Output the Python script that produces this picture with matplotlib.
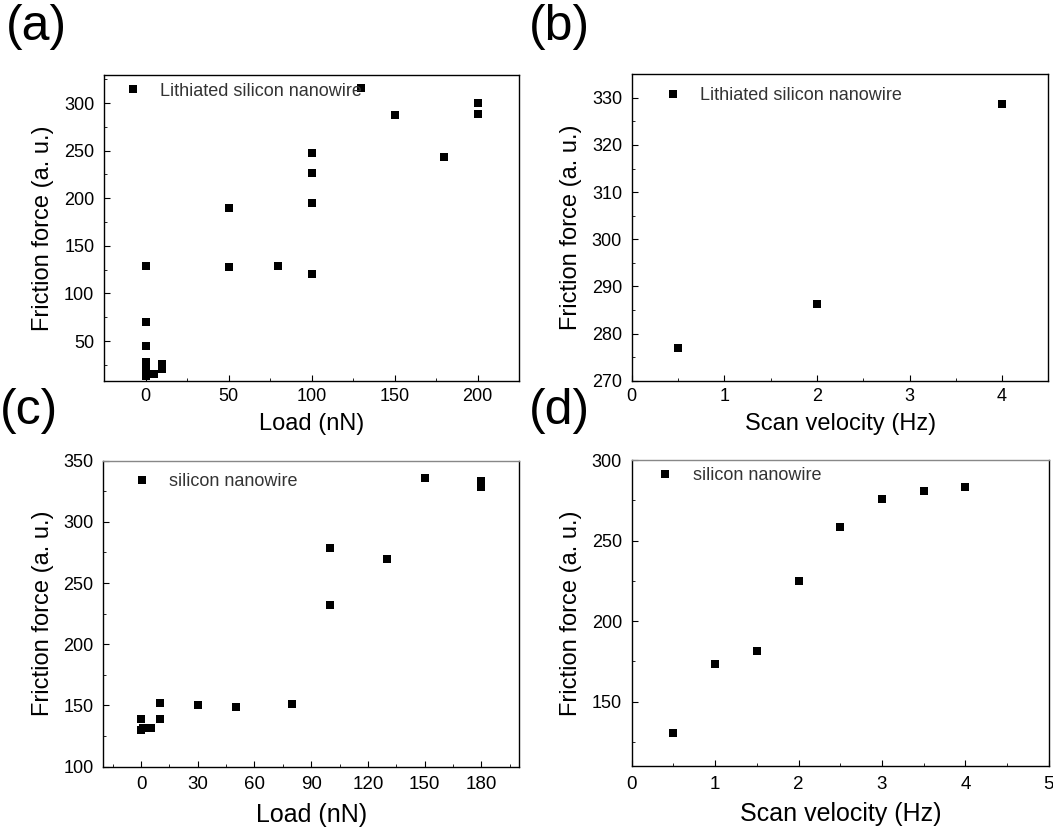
import matplotlib
matplotlib.use('Agg')
import matplotlib.pyplot as plt
from matplotlib.ticker import MultipleLocator

plt.rcParams.update({
    'font.family': ['Liberation Sans', 'DejaVu Sans'],
    'xtick.direction': 'in',
    'ytick.direction': 'in',
    'xtick.major.size': 4,
    'ytick.major.size': 4,
    'xtick.minor.size': 2.5,
    'ytick.minor.size': 2.5,
    'xtick.labelsize': 13,
    'ytick.labelsize': 13,
    'axes.linewidth': 1.0,
})

# (a) lithiated wire, friction vs load
load_a = [0, 0, 0, 0, 0, 0, 5, 10, 10, 50, 50, 80, 100, 100, 100, 100, 130, 150, 180, 200, 200]
force_a = [129, 70, 45, 28, 21, 13, 15, 26, 21, 190, 128, 129, 248, 227, 195, 120, 316, 287, 243, 300, 289]

# (b) lithiated wire, friction vs scan velocity
vel_b = [0.5, 2, 4]
force_b = [277, 286.2, 328.8]

# (c) silicon wire, friction vs load
load_c = [0, 0, 1, 5, 10, 10, 30, 50, 80, 100, 100, 130, 150, 180, 180]
force_c = [139, 130, 132, 132, 152, 139, 150, 149, 151.5, 278.5, 231.8, 269.3, 335.6, 333.5, 328.5]

# (d) silicon wire, friction vs scan velocity
vel_d = [0.5, 1, 1.5, 2, 2.5, 3, 3.5, 4]
force_d = [130.4, 173.6, 181.7, 224.7, 258.3, 275.7, 280.6, 283.5]

ylab = 'Friction force (a. u.)'

fig = plt.figure(figsize=(10.53, 8.31), dpi=100)
ax_a = fig.add_axes([0.0988, 0.5415, 0.3941, 0.3688])
ax_b = fig.add_axes([0.600, 0.5419, 0.3956, 0.3687])
ax_c = fig.add_axes([0.0981, 0.0774, 0.3948, 0.3682])
ax_d = fig.add_axes([0.600, 0.0782, 0.3960, 0.3682])

ax_a.plot(load_a, force_a, 's', color='black', ms=6, mew=0, label='Lithiated silicon nanowire')
ax_b.plot(vel_b, force_b, 's', color='black', ms=5.5, mew=0, label='Lithiated silicon nanowire')
ax_c.plot(load_c, force_c, 's', color='black', ms=6, mew=0, label='silicon nanowire')
ax_d.plot(vel_d, force_d, 's', color='black', ms=5.5, mew=0, label='silicon nanowire')

ax_a.set_xlim(-25, 225)
ax_a.set_ylim(8, 330)
ax_a.xaxis.set_major_locator(MultipleLocator(50))
ax_a.xaxis.set_minor_locator(MultipleLocator(25))
ax_a.yaxis.set_major_locator(MultipleLocator(50))
ax_a.yaxis.set_minor_locator(MultipleLocator(25))

ax_b.set_xlim(0, 4.5)
ax_b.set_ylim(270, 335)
ax_b.xaxis.set_major_locator(MultipleLocator(1))
ax_b.xaxis.set_minor_locator(MultipleLocator(0.5))
ax_b.yaxis.set_major_locator(MultipleLocator(10))
ax_b.yaxis.set_minor_locator(MultipleLocator(5))

ax_c.set_xlim(-20, 200)
ax_c.set_ylim(100, 350)
ax_c.xaxis.set_major_locator(MultipleLocator(30))
ax_c.xaxis.set_minor_locator(MultipleLocator(15))
ax_c.yaxis.set_major_locator(MultipleLocator(50))
ax_c.yaxis.set_minor_locator(MultipleLocator(25))

ax_d.set_xlim(0, 5)
ax_d.set_ylim(110, 300)
ax_d.xaxis.set_major_locator(MultipleLocator(1))
ax_d.xaxis.set_minor_locator(MultipleLocator(0.5))
ax_d.yaxis.set_major_locator(MultipleLocator(50))
ax_d.yaxis.set_minor_locator(MultipleLocator(25))

for ax in [ax_a, ax_b, ax_c, ax_d]:
    ax.tick_params(which='both', top=False, right=False)
    ax.tick_params(axis='y', pad=7)
    ax.set_ylabel(ylab, fontsize=17, labelpad=7)

for ax in [ax_a, ax_b]:
    ax.tick_params(axis='x', pad=5)
for ax in [ax_c, ax_d]:
    ax.tick_params(axis='x', pad=7, labelsize=13.5)
    ax.spines['top'].set_color('#888888')

ax_a.set_xlabel('Load (nN)', fontsize=17, labelpad=6)
ax_b.set_xlabel('Scan velocity (Hz)', fontsize=17, labelpad=6)
ax_c.set_xlabel('Load (nN)', fontsize=18, labelpad=7)
ax_d.set_xlabel('Scan velocity (Hz)', fontsize=18, labelpad=7)

legend_pos = {ax_a: (0.047, 0.973), ax_b: (0.078, 0.958), ax_c: (0.072, 0.959), ax_d: (0.059, 0.977)}
for ax, pos in legend_pos.items():
    leg = ax.legend(loc='upper left', bbox_to_anchor=pos, frameon=False, numpoints=1,
                    handlelength=1.0, handletextpad=1.0, borderpad=0, borderaxespad=0,
                    fontsize=13)
    for t in leg.get_texts():
        t.set_color('#333333')

fig.text(0.006, 0.995, '(a)', fontsize=36, va='top')
fig.text(0.502, 0.995, '(b)', fontsize=36, va='top')
fig.text(0.000, 0.533, '(c)', fontsize=36, va='top')
fig.text(0.502, 0.533, '(d)', fontsize=36, va='top')

fig.savefig('out.png', dpi=100)
